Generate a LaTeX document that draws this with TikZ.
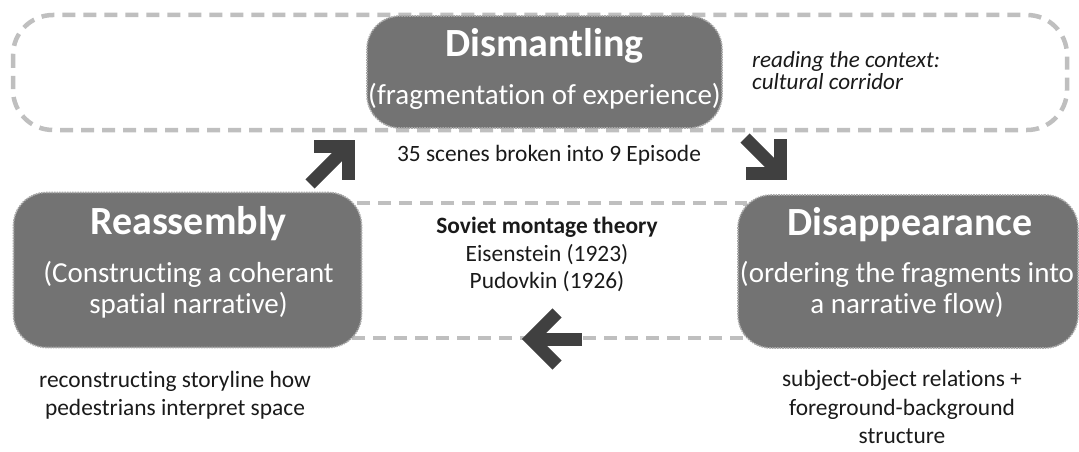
\documentclass[tikz,border=0pt]{standalone}
\usepackage{fontspec}
\setmainfont{Carlito}[Ligatures=NoCommon, RawFeature={-liga;-calt}]
\definecolor{boxfill}{HTML}{737373}
\definecolor{boxedge}{HTML}{A8A8A8}
\definecolor{dashgray}{HTML}{BFBFBF}
\definecolor{arrowgray}{HTML}{404040}
\definecolor{textblack}{HTML}{1A1A1A}
\begin{document}
\begin{tikzpicture}[x=1pt,y=-1pt,
  stagebox/.style={draw=boxedge, densely dotted, line width=1.6pt, fill=boxfill, rounded corners=33pt, inner sep=0pt},
  frame/.style={draw=dashgray, line width=4.5pt, dash pattern=on 13pt off 8pt},
  stagetitle/.style={inner sep=0pt, anchor=base, text=white, font=\fontsize{40}{48}\selectfont\bfseries},
  stagesub/.style={inner sep=0pt, anchor=base, text=white, font=\fontsize{29}{34}\selectfont},
  note/.style={inner sep=0pt, anchor=base, text=textblack, font=\fontsize{23.4}{28}\selectfont},
  notebold/.style={note, font=\fontsize{23.4}{28}\selectfont\bfseries},
  noteital/.style={inner sep=0pt, anchor=base west, text=textblack, font=\fontsize{23.1}{26}\selectfont\itshape},
  fat/.style={draw=arrowgray, line width=13pt},
  fathead/.style={draw=arrowgray, line width=13pt, line join=miter},
]
\useasboundingbox (0,0) rectangle (1079,452);

% dashed frames
\draw[frame, rounded corners=40pt] (13,15) rectangle (1067,130);
\draw[frame] (340,203) rectangle (745,338);

% stage boxes
\node[stagebox, minimum width=355pt, minimum height=112pt] (dis) at (544.5,72) {};
\node[stagebox, minimum width=348pt, minimum height=155pt] (rea) at (187.5,270) {};
\node[stagebox, minimum width=340pt, minimum height=153pt] (disap) at (908,271.5) {};

% box texts
\node[stagetitle] (disT) at (544.5,57) {Dismantling};
\node[stagesub] (disS) at (544.5,104) {(fragmentation of experience)};

\node[stagetitle] (reaT) at (188.5,234) {Reassembly};
\node[stagesub] (reaS1) at (188.5,282) {(Constructing a coherant};
\node[stagesub] (reaS2) at (188.5,313) {spatial narrative)};

\node[stagetitle] (disapT) at (910,235) {Disappearance};
\node[stagesub] (disapS1) at (907,282) {(ordering the fragments into};
\node[stagesub] (disapS2) at (907,313) {a narrative flow)};

% notes
\node[noteital] (ctx1) at (752,67) {reading the context:};
\node[noteital] (ctx2) at (752,89) {cultural corridor};

\node[note] (scenes) at (549,161) {35 scenes broken into 9 Episode};

\node[notebold] (sov) at (547,233) {Soviet montage theory};
\node[note] (eis) at (547,261) {Eisenstein (1923)};
\node[note] (pud) at (547,288) {Pudovkin (1926)};

\node[note] (rec1) at (175,387) {reconstructing storyline how};
\node[note] (rec2) at (175,415) {pedestrians interpret space};

\node[note] (sub1) at (902,386) {subject-object relations +};
\node[note] (sub2) at (902,415) {foreground-background};
\node[note] (sub3) at (902,443) {structure};

% arrows
\coordinate (a1t) at (310,184);
\coordinate (a1v) at (348,146);
\coordinate (a1h) at (314,146);
\coordinate (a1d) at (348,180);
\draw[fat] (a1t) -- (a1v);
\draw[fathead] (a1h) -- (a1v) -- (a1d);

\coordinate (a2t) at (745,138);
\coordinate (a2v) at (780.5,173.5);
\coordinate (a2h) at (746,173.5);
\coordinate (a2u) at (780.5,139);
\draw[fat] (a2t) -- (a2v);
\draw[fathead] (a2h) -- (a2v) -- (a2u);

\coordinate (a3t) at (582,339);
\coordinate (a3v) at (531,339);
\coordinate (a3u) at (557,313);
\coordinate (a3d) at (557,365);
\draw[fat] (a3t) -- (a3v);
\draw[fathead] (a3u) -- (a3v) -- (a3d);
\end{tikzpicture}
\end{document}
